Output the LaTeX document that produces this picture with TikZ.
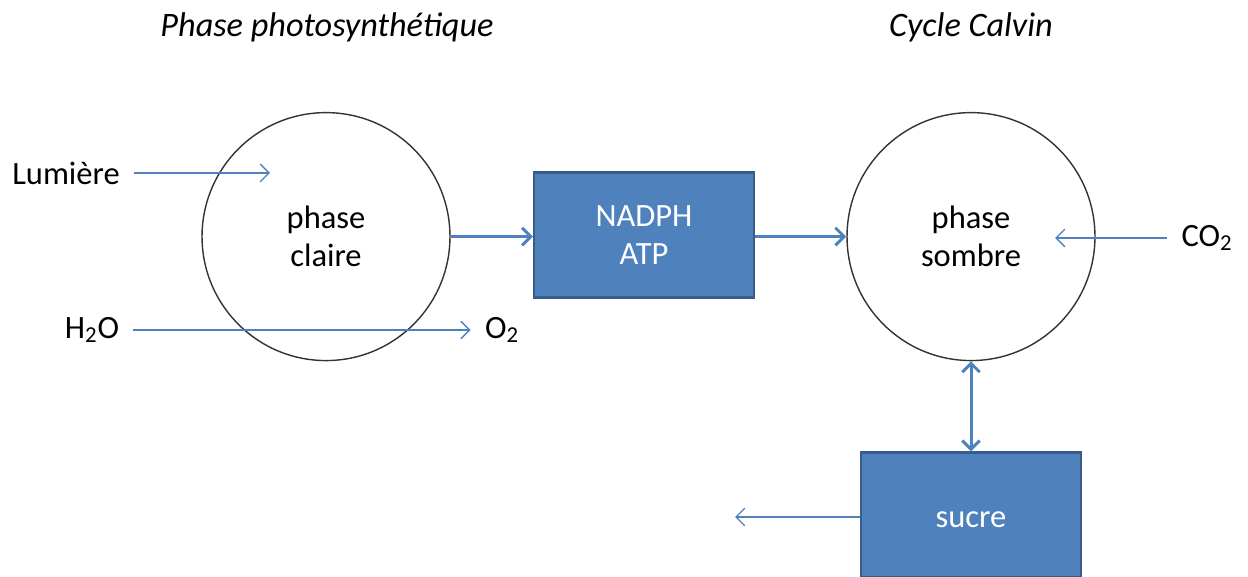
\documentclass[tikz,border=0pt]{standalone}
\usepackage{fontspec}
\setmainfont{Carlito}
\usetikzlibrary{arrows.meta}
\definecolor{boxblue}{HTML}{4F81BD}
\definecolor{boxedge}{HTML}{385D8A}
\begin{document}
\begin{tikzpicture}[x=0.02cm, y=-0.02cm, font=\fontsize{18.5}{21.6}\selectfont,
	flow/.style={draw=boxblue, line width=0.8pt, -{Straight Barb[length=5pt,width=10pt]}},
	bigflow/.style={draw=boxblue, line width=1.7pt, -{Straight Barb[length=5pt,width=10pt]}},
	phase/.style={circle, draw=black!80, line width=0.8pt, minimum size=4.96cm, align=center},
	store/.style={rectangle, draw=boxedge, line width=1.2pt, fill=boxblue, text=white, minimum width=4.4cm, minimum height=2.5cm, align=center},
	term/.style={inner xsep=8pt},
	heading/.style={font=\fontsize{19.5}{23}\selectfont\itshape}]
	\useasboundingbox (0,0) rectangle (1248,577);
	% titres
	\node (T1) at ( 327,  27)	[heading]	{Phase photosynthétique};
	\node (T2) at ( 971,  27)	[heading]	{Cycle Calvin};
	% phases
	\node (claire) at ( 326, 236.6)	[phase]	{phase\\claire};
	\node (sombre) at ( 971, 236.6)	[phase]	{phase\\sombre};
	\node (nadph) at ( 644, 235)	[store]	{NADPH\\ATP};
	\node (sucre) at ( 971, 515)	[store, text height=14pt]	{sucre};
	% entrees et sorties
	\node (lum) at (  66, 173)	[term]	{Lumière};
	\node (h2o) at (  92, 330)	[term]	{H\textsubscript{2}O};
	\node (o2) at ( 502, 330)	[term]	{O\textsubscript{2}};
	\node (co2) at (1207, 238)	[term]	{CO\textsubscript{2}};
	\coordinate (lumEnd) at ( 270, 173);
	\coordinate (co2End) at (1055, 238);
	\coordinate (sucreEnd) at ( 735, 517);

	\draw[flow] (lum) -- (lumEnd);
	\draw[flow] (h2o) -- (o2);
	\draw[flow] (co2) -- (co2End);
	\draw[flow] (sucre.west |- sucreEnd) -- (sucreEnd);
	\draw[bigflow] (claire) -- (claire.east -| nadph.west);
	\draw[bigflow] (nadph.east |- sombre.west) -- (sombre);
	\draw[bigflow, {Straight Barb[length=5pt,width=10pt]}-{Straight Barb[length=5pt,width=10pt]}] (sombre) -- (sucre);
\end{tikzpicture}
\end{document}
